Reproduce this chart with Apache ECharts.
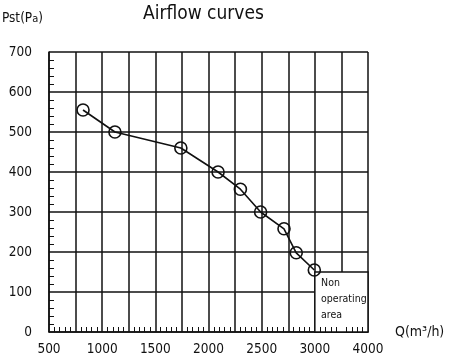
<!DOCTYPE html>
<html>
<head>
<meta charset="utf-8">
<script src="https://cdn.jsdelivr.net/npm/echarts@6/dist/echarts.min.js"></script>
<style>html,body{margin:0;padding:0;background:#fff}#c{width:450px;height:362px}</style>
</head>
<body>
<div id="c"></div>
<script>
const chartTitle = 'Airflow curves';
const flow = [820, 1120, 1740, 2090, 2300, 2490, 2710, 2825, 2995];
const pressure = [555, 500, 460, 400, 357, 300, 258, 198, 155];
const xTickValues = [500, 1000, 1500, 2000, 2500, 3000, 3500];
const xTickLabels = ['500', '1000', '1500', '2000', '2500', '3000', '4000'];
const yTicks = [0, 100, 200, 300, 400, 500, 600, 700];
const nonOpFlow = [3000, 3500];
const nonOpPressure = [0, 150];
const nonOpLabel = 'Non\noperating\narea';

const FONT = '"DejaVu Sans Condensed", "DejaVu Sans", sans-serif';
const INK = '#111';
const chart = echarts.init(document.getElementById('c'), null, {renderer: 'canvas'});

function xFmt(v) {
  const i = xTickValues.indexOf(v);
  return i >= 0 ? xTickLabels[i] : '';
}

const baseX = {
  type: 'value', min: xTickValues[0], max: xTickValues[xTickValues.length - 1], interval: 250
};

chart.setOption({
  animation: false,
  backgroundColor: '#fff',
  title: {
    text: chartTitle, left: 143, top: 5, padding: 0,
    textStyle: {fontFamily: FONT, fontSize: 19, fontWeight: 'normal', color: INK}
  },
  grid: {left: 49, right: 82, top: 52, bottom: 30, containLabel: false, outerBoundsMode: 'none'},
  xAxis: [
    Object.assign({}, baseX, {
      z: 0,
      name: 'Q(m³/h)', nameLocation: 'end', nameGap: 27,
      nameTextStyle: {fontFamily: FONT, fontSize: 14, color: INK, padding: [32, 0, 0, 0]},
      axisLine: {show: true, lineStyle: {color: INK, width: 1.5}},
      axisTick: {show: false},
      axisLabel: {formatter: xFmt, fontFamily: FONT, fontSize: 13.5, color: INK, margin: 10, showMinLabel: true, showMaxLabel: true, hideOverlap: false},
      splitLine: {show: true, lineStyle: {color: INK, width: 1.5}}
    }),
    Object.assign({}, baseX, {
      z: 5,
      position: 'bottom',
      axisLine: {show: false},
      axisTick: {show: false, inside: true},
      axisLabel: {show: false},
      splitLine: {show: false},
      minorTick: {show: true, splitNumber: 5, length: 5, lineStyle: {color: INK, width: 1}}
    })
  ],
  yAxis: {
    type: 'value', min: 0, max: 700, interval: 100,
    name: 'Pst(P{s|a})', nameLocation: 'end', nameGap: 27,
    nameTextStyle: {fontFamily: FONT, fontSize: 13.5, color: INK, align: 'right', padding: [0, 6, 0, 0],
      rich: {s: {fontFamily: FONT, fontSize: 11, color: INK, padding: [3, 0, 0, 0]}}},
    axisLine: {show: true, lineStyle: {color: INK, width: 1.5}},
    axisTick: {show: false, inside: true},
    minorTick: {show: true, splitNumber: 5, length: 5, lineStyle: {color: INK, width: 1}},
    axisLabel: {fontFamily: FONT, fontSize: 13.5, color: INK, margin: 17,
      formatter: v => (yTicks.indexOf(v) >= 0 ? String(v) : '')},
    splitLine: {show: true, lineStyle: {color: INK, width: 1.5}}
  },
  series: [{
    type: 'line',
    xAxisIndex: 0,
    data: flow.map((f, i) => [f, pressure[i]]),
    symbol: 'circle', symbolSize: 12,
    itemStyle: {color: 'rgba(255,255,255,0)', borderColor: INK, borderWidth: 1.6},
    lineStyle: {color: INK, width: 1.6},
    z: 3,
    markArea: {
      silent: true,
      z: 1,
      itemStyle: {color: '#fff', borderColor: INK, borderWidth: 1.5},
      label: {show: true, position: 'insideTopLeft', distance: 0, offset: [7, 4],
        formatter: nonOpLabel, fontFamily: FONT, fontSize: 10.5, lineHeight: 16, color: INK, align: 'left'},
      data: [[{coord: [nonOpFlow[0], nonOpPressure[1]]}, {coord: [nonOpFlow[1], nonOpPressure[0]]}]]
    }
  }]
});
</script>
</body>
</html>
